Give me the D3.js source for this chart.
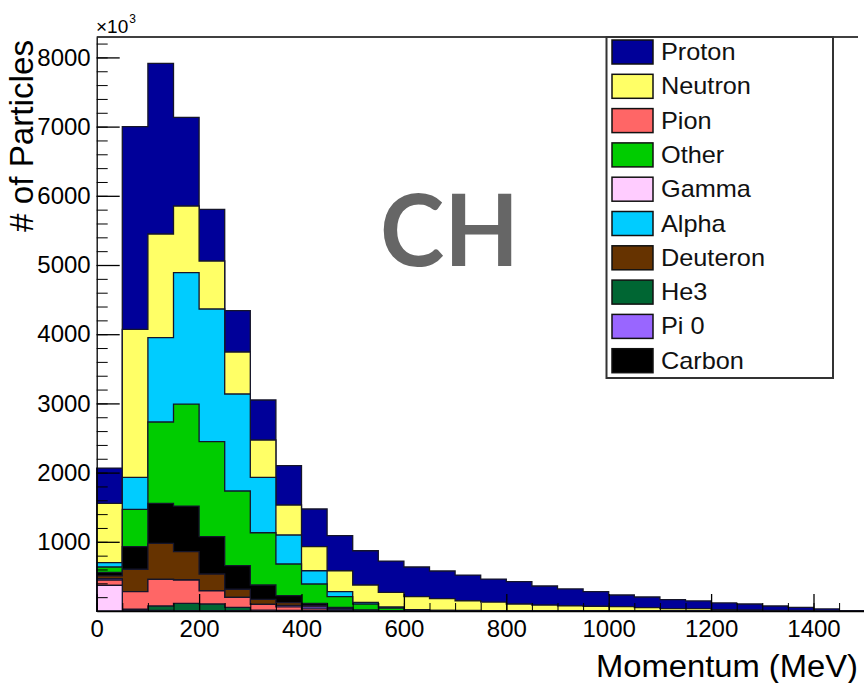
<!DOCTYPE html>
<html>
<head>
<meta charset="utf-8">
<script src="https://cdn.jsdelivr.net/npm/d3@7"></script>
<style>
  html, body { margin: 0; padding: 0; background: #fff; }
  svg { display: block; font-family: "Liberation Sans", Arial, Helvetica, sans-serif; }
</style>
</head>
<body>
<div id="chart"></div>
<script>
// bin lower edges (MeV), width 50
var binEdges = [0, 50, 100, 150, 200, 250, 300, 350, 400, 450, 500, 550, 600, 650, 700,
                750, 800, 850, 900, 950, 1000, 1050, 1100, 1150, 1200, 1250, 1300, 1350, 1400, 1450, 1500];

// particle counts per bin
var gamma    = [371, 10, 10, 5, 5, 5, 2, 0, 0, 0, 0, 0, 0, 0, 0, 0, 0, 0, 0, 0, 0, 0, 0, 0, 0, 0, 0, 0, 0, 0];
var he3      = [0, 15, 62, 106, 96, 48, 12, 10, 5, 3, 2, 0, 0, 0, 0, 0, 0, 0, 0, 0, 0, 0, 0, 0, 0, 0, 0, 0, 0, 0];
var pion     = [77, 254, 386, 337, 192, 145, 83, 50, 25, 10, 4, 1, 1, 0, 0, 0, 0, 0, 0, 0, 0, 0, 0, 0, 0, 0, 0, 0, 0, 0];
var pi0      = [20, 0, 0, 0, 0, 0, 0, 20, 30, 15, 3, 1, 2, 1, 0, 0, 0, 0, 0, 0, 0, 0, 0, 0, 0, 0, 0, 0, 0, 0];
var deuteron = [40, 324, 520, 409, 242, 116, 72, 40, 20, 10, 2, 1, 1, 1, 0, 0, 0, 0, 0, 0, 0, 0, 0, 0, 0, 0, 0, 0, 0, 0];
var carbon   = [50, 326, 578, 660, 539, 341, 207, 101, 31, 15, 3, 1, 2, 1, 1, 0, 0, 0, 0, 0, 0, 0, 0, 0, 0, 0, 0, 0, 0, 0];
var other    = [78, 541, 1175, 1474, 1373, 1079, 755, 458, 279, 154, 87, 39, 10, 5, 4, 3, 2, 2, 1, 1, 1, 1, 1, 1, 0, 0, 0, 0, 0, 0];
var alpha    = [62, 462, 1219, 1898, 1917, 1402, 801, 419, 192, 72, 25, 15, 4, 2, 2, 1, 1, 0, 0, 0, 0, 0, 0, 0, 0, 0, 0, 0, 0, 0];
var neutron  = [858, 2139, 1498, 964, 694, 607, 539, 434, 347, 303, 250, 212, 187, 168, 141, 125, 98, 85, 75, 68, 61, 47, 32, 32, 20, 15, 10, 8, 5, 3];
var proton   = [510, 2929, 2466, 1281, 747, 597, 578, 568, 545, 506, 495, 452, 429, 400, 371, 332, 323, 274, 243, 211, 169, 154, 131, 112, 96, 86, 62, 45, 25, 0];

// legend order (as in the reference)
var legendNames  = ["Proton", "Neutron", "Pion", "Other", "Gamma", "Alpha", "Deuteron", "He3", "Pi 0", "Carbon"];
var legendColors = ["#000099", "#ffff66", "#ff6666", "#00cc00", "#ffccff", "#00ccff", "#663300", "#006633", "#9966ff", "#000000"];

// stacking order, bottom to top
var stackNames = ["Gamma", "He3", "Pion", "Pi 0", "Deuteron", "Carbon", "Other", "Alpha", "Neutron", "Proton"];
var stackData  = [gamma, he3, pion, pi0, deuteron, carbon, other, alpha, neutron, proton];

var yMajorTicks = [1000, 2000, 3000, 4000, 5000, 6000, 7000, 8000];
var xMajorTicks = [0, 200, 400, 600, 800, 1000, 1200, 1400];

var W = 864, H = 683;
var svg = d3.select("#chart").append("svg").attr("width", W).attr("height", H);

// x: 0..1500 MeV, y: 0..1.05*max
var x = d3.scaleLinear().domain([0, 1500]).range([96.7, 864.7]);
var y = d3.scaleLinear().domain([0, 8295]).range([611, 37]);

// cumulative sums per layer
var cum = [];
stackData.forEach(function (arr, i) {
    cum.push(arr.map(function (v, j) { return v + (i > 0 ? cum[i - 1][j] : 0); }));
});

var area = d3.area()
    .curve(d3.curveStepAfter)
    .x(function (d) { return x(d[0]); })
    .y0(y(0))
    .y1(function (d) { return y(d[1]); });

function colorOf(name) { return legendColors[legendNames.indexOf(name)]; }

// ROOT-like: draw from the top layer down so lower sums cover higher ones
for (var i = stackNames.length - 1; i >= 0; i--) {
    var pts = cum[i].map(function (v, j) { return [binEdges[j], v]; });
    pts.push([binEdges[binEdges.length - 1], cum[i][cum[i].length - 1]]);
    svg.append("path")
        .datum(pts)
        .attr("d", area)
        .attr("fill", colorOf(stackNames[i]))
        .attr("stroke", "#15152a")
        .attr("stroke-width", 1.3)
        .attr("stroke-linejoin", "miter");
}

// frame top
svg.append("line").attr("x1", 96.7).attr("x2", 858).attr("y1", 37).attr("y2", 37)
    .attr("stroke", "#000").attr("stroke-width", 1.5);

// y axis minor ticks every 200
var yMinor = [];
for (var v = 200; v <= 8200; v += 200) yMinor.push(v);
svg.append("g").attr("transform", "translate(96.7,0)")
    .call(d3.axisLeft(y).tickValues(yMinor).tickSize(-11).tickFormat(""))
    .call(function (g) { g.select(".domain").remove(); });

var yAxis = svg.append("g").attr("transform", "translate(96.7,0)")
    .call(d3.axisLeft(y).tickValues(yMajorTicks).tickSize(-23).tickSizeOuter(0).tickPadding(6).tickFormat(d3.format("d")));
yAxis.selectAll("text").attr("font-size", 24).attr("font-family", "Liberation Sans, Arial, sans-serif").attr("fill", "#000");
yAxis.selectAll("line, path").attr("stroke", "#000").attr("stroke-width", 1.3);

// x axis minor ticks every 50
var xMinor = [];
for (var u = 0; u <= 1500; u += 50) xMinor.push(u);
svg.append("g").attr("transform", "translate(0,611)")
    .call(d3.axisBottom(x).tickValues(xMinor).tickSize(-8).tickFormat(""))
    .call(function (g) { g.select(".domain").remove(); });

var xAxis = svg.append("g").attr("transform", "translate(0,611)")
    .call(d3.axisBottom(x).tickValues(xMajorTicks).tickSize(-17).tickSizeOuter(0).tickPadding(9).tickFormat(d3.format("d")));
xAxis.selectAll("text").attr("font-size", 24).attr("font-family", "Liberation Sans, Arial, sans-serif").attr("fill", "#000");
xAxis.selectAll("line, path").attr("stroke", "#000").attr("stroke-width", 1.3);

// x10^3 exponent label
var mult = svg.append("text").attr("x", 96).attr("y", 33).attr("fill", "#000");
mult.append("tspan").attr("font-size", 19).text("×10");
mult.append("tspan").attr("font-size", 12).attr("dy", -10).attr("dx", 1).text("3");

// axis titles
svg.append("text")
    .attr("transform", "translate(33,136) rotate(-90)")
    .attr("text-anchor", "middle")
    .attr("font-size", 34)
    .attr("textLength", 192)
    .attr("lengthAdjust", "spacingAndGlyphs")
    .text("# of Particles");

svg.append("text")
    .attr("x", 596).attr("y", 677)
    .attr("font-size", 31)
    .attr("textLength", 262)
    .attr("lengthAdjust", "spacingAndGlyphs")
    .text("Momentum (MeV)");

// big label
svg.append("text")
    .attr("x", 380).attr("y", 266)
    .attr("font-family", "Lato, 'Open Sans', sans-serif")
    .attr("font-weight", 700)
    .attr("font-size", 100)
    .attr("fill", "#666")
    .attr("textLength", 139)
    .attr("lengthAdjust", "spacingAndGlyphs")
    .text("CH");

// legend
var leg = svg.append("g");
leg.append("rect").attr("x", 606.5).attr("y", 37).attr("width", 226.5).attr("height", 341)
    .attr("fill", "#fff").attr("stroke", "#333").attr("stroke-width", 2);
legendNames.forEach(function (name, k) {
    var top = 40 + k * 34.3;
    leg.append("rect").attr("x", 612).attr("y", top).attr("width", 41).attr("height", 24)
        .attr("fill", legendColors[k]).attr("stroke", "#111").attr("stroke-width", 1.5);
    leg.append("text")
        .attr("transform", "translate(661," + (top + 20) + ") scale(1.1,1)")
        .attr("font-size", 23)
        .attr("fill", "#111")
        .text(name);
});
</script>
</body>
</html>
